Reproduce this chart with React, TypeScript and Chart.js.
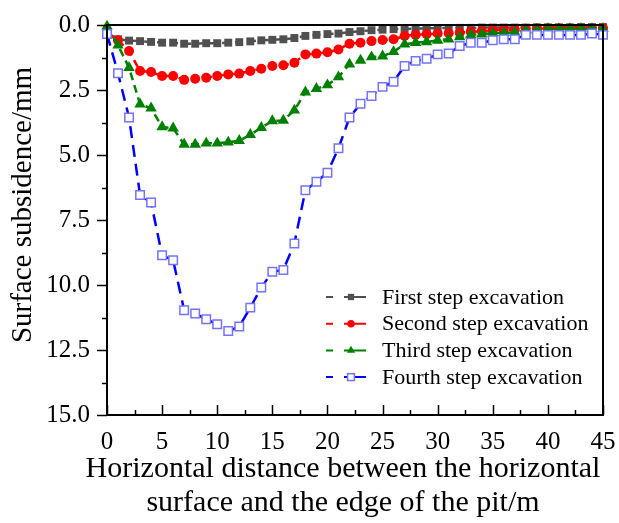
import { useEffect, useRef } from 'react';
import { Chart, registerables } from 'chart.js';

Chart.register(...registerables);

const DISTANCE = [0, 1, 2, 3, 4, 5, 6, 7, 8, 9, 10, 11, 12, 13, 14, 15, 16, 17, 18, 19, 20, 21, 22, 23, 24, 25, 26, 27, 28, 29, 30, 31, 32, 33, 34, 35, 36, 37, 38, 39, 40, 41, 42, 43, 44, 45];

const FIRST_STEP = [0.3, 0.55, 0.6, 0.62, 0.65, 0.68, 0.68, 0.72, 0.72, 0.7, 0.7, 0.68, 0.66, 0.63, 0.59, 0.57, 0.55, 0.5, 0.42, 0.38, 0.35, 0.33, 0.27, 0.24, 0.2, 0.18, 0.16, 0.15, 0.14, 0.13, 0.12, 0.12, 0.11, 0.11, 0.1, 0.1, 0.1, 0.1, 0.1, 0.09, 0.09, 0.09, 0.09, 0.08, 0.08, 0.08];

const SECOND_STEP = [0.3, 0.59, 1.0, 1.77, 1.81, 1.96, 1.96, 2.11, 2.07, 2.03, 1.96, 1.9, 1.87, 1.77, 1.68, 1.58, 1.55, 1.45, 1.13, 1.1, 1.05, 0.94, 0.72, 0.68, 0.62, 0.58, 0.55, 0.42, 0.38, 0.35, 0.33, 0.32, 0.3, 0.26, 0.24, 0.2, 0.18, 0.18, 0.14, 0.13, 0.13, 0.13, 0.13, 0.13, 0.13, 0.12];

const THIRD_STEP = [0.05, 0.78, 1.64, 3.05, 3.2, 3.92, 3.97, 4.59, 4.59, 4.55, 4.55, 4.51, 4.45, 4.22, 3.95, 3.69, 3.67, 3.28, 2.58, 2.45, 2.31, 2.0, 1.51, 1.36, 1.23, 1.2, 1.03, 0.74, 0.68, 0.65, 0.59, 0.55, 0.46, 0.38, 0.35, 0.32, 0.3, 0.28, 0.2, 0.17, 0.15, 0.15, 0.15, 0.15, 0.15, 0.14];

const FOURTH_STEP = [0.35, 1.86, 3.56, 6.54, 6.83, 8.86, 9.05, 10.97, 11.1, 11.32, 11.51, 11.77, 11.6, 10.87, 10.1, 9.49, 9.42, 8.4, 6.36, 6.03, 5.68, 4.74, 3.56, 3.03, 2.73, 2.38, 2.18, 1.58, 1.38, 1.3, 1.13, 1.1, 0.81, 0.68, 0.68, 0.59, 0.55, 0.55, 0.38, 0.38, 0.38, 0.38, 0.38, 0.38, 0.33, 0.38];

const SERIES_NAMES = ['First step excavation', 'Second step excavation', 'Third step excavation', 'Fourth step excavation'];
const X_TITLE_LINES = ['Horizontal distance between the horizontal', 'surface and the edge of the pit/m'];
const Y_TITLE = 'Surface subsidence/mm';

const FONT = '"Liberation Serif", "Times New Roman", Times, serif';

type Style = {
  color: string;
  marker: 'rect' | 'circle' | 'triangle' | 'openRect';
  markerStroke: string;
  markerFill: string;
  dash: number[];
};

const STYLES: Style[] = [
  { color: '#505050', marker: 'rect', markerStroke: '#505050', markerFill: '#505050', dash: [8, 5] },
  { color: '#ff0000', marker: 'circle', markerStroke: '#ff0000', markerFill: '#ff0000', dash: [8, 5] },
  { color: '#008000', marker: 'triangle', markerStroke: '#008000', markerFill: '#008000', dash: [8, 5] },
  { color: '#0000ff', marker: 'openRect', markerStroke: '#7373ff', markerFill: '#ffffff', dash: [12, 7] },
];

function drawMarker(ctx: CanvasRenderingContext2D, s: Style, x: number, y: number, k: number) {
  ctx.save();
  ctx.setLineDash([]);
  ctx.fillStyle = s.markerFill;
  ctx.strokeStyle = s.markerStroke;
  ctx.lineWidth = 1.5;
  if (s.marker === 'rect') {
    const h = 3.5 * k;
    ctx.fillRect(x - h, y - h, 2 * h, 2 * h);
  } else if (s.marker === 'circle') {
    ctx.beginPath();
    ctx.arc(x, y, 4.2 * k, 0, Math.PI * 2);
    ctx.fill();
  } else if (s.marker === 'triangle') {
    const r = 5.2 * k;
    ctx.beginPath();
    ctx.moveTo(x, y - r);
    ctx.lineTo(x + r * 0.866, y + r * 0.5);
    ctx.lineTo(x - r * 0.866, y + r * 0.5);
    ctx.closePath();
    ctx.fill();
  } else {
    const h = 3.8 * k;
    ctx.fillRect(x - h, y - h, 2 * h, 2 * h);
    ctx.strokeRect(x - h, y - h, 2 * h, 2 * h);
  }
  ctx.restore();
}

const decorPlugin = {
  id: 'decor',
  afterDraw(chart: any) {
    const { ctx, chartArea: a, scales } = chart;
    const xs = scales.x;
    const ys = scales.y;
    ctx.save();
    ctx.strokeStyle = '#000';
    ctx.lineWidth = 2;
    ctx.strokeRect(a.left, a.top, a.right - a.left, a.bottom - a.top);
    ctx.lineWidth = 1.5;
    for (let i = 0; i <= 12; i++) {
      const v = i * 1.25;
      const y = Math.round(ys.getPixelForValue(v)) + 0.5;
      const len = i % 2 === 0 ? 10 : 5;
      ctx.beginPath();
      ctx.moveTo(a.left - len, y);
      ctx.lineTo(a.left, y);
      ctx.stroke();
    }
    for (let i = 0; i <= 18; i++) {
      const v = i * 2.5;
      const x = Math.round(xs.getPixelForValue(v)) + 0.5;
      const len = i % 2 === 0 ? 10 : 5;
      ctx.beginPath();
      ctx.moveTo(x, a.bottom);
      ctx.lineTo(x, a.bottom - len);
      ctx.stroke();
    }
    ctx.fillStyle = '#000';
    ctx.textAlign = 'center';
    ctx.textBaseline = 'middle';
    ctx.font = `29px ${FONT}`;
    ctx.save();
    ctx.translate(23, 205);
    ctx.rotate(-Math.PI / 2);
    ctx.fillText(Y_TITLE, 0, 0);
    ctx.restore();
    ctx.font = `30px ${FONT}`;
    ctx.fillText(X_TITLE_LINES[0], 343, 469);
    ctx.fillText(X_TITLE_LINES[1], 343, 503);
    ctx.font = `22px ${FONT}`;
    ctx.textAlign = 'left';
    for (let i = 0; i < SERIES_NAMES.length; i++) {
      const s = STYLES[i];
      const y = 297 + i * 26.7;
      ctx.strokeStyle = s.color;
      ctx.lineWidth = 2;
      ctx.setLineDash([]);
      ctx.beginPath();
      ctx.moveTo(326, y);
      ctx.lineTo(333, y);
      ctx.moveTo(344, y);
      ctx.lineTo(366, y);
      ctx.stroke();
      drawMarker(ctx, s, 351, y, 0.9);
      ctx.fillStyle = '#000';
      ctx.fillText(SERIES_NAMES[i], 382, y + 1);
    }
    ctx.restore();
  },
};

export default function App() {
  const canvasRef = useRef<HTMLCanvasElement | null>(null);

  useEffect(() => {
    if (!canvasRef.current) return;
    const seriesValues = [FIRST_STEP, SECOND_STEP, THIRD_STEP, FOURTH_STEP];
    const pointStyles: any = { rect: 'rect', circle: 'circle', triangle: 'triangle', openRect: 'rect' };
    const radii: any = { rect: 5.6, circle: 5, triangle: 6.6, openRect: 6 };
    const datasets = seriesValues.map((vals, i) => {
      const s = STYLES[i];
      return {
        label: SERIES_NAMES[i],
        data: DISTANCE.map((d, j) => ({ x: d, y: vals[j] })),
        borderColor: s.color,
        borderWidth: 2.5,
        borderDash: s.dash,
        pointStyle: pointStyles[s.marker],
        pointRadius: radii[s.marker],
        pointBackgroundColor: s.markerFill,
        pointBorderColor: s.markerStroke,
        pointBorderWidth: s.marker === 'openRect' ? 1.5 : 0,
        fill: false,
        tension: 0,
        order: 3 - i,
        clip: false as any,
      };
    });
    const chart = new Chart(canvasRef.current, {
      type: 'line',
      data: { datasets },
      options: {
        animation: false,
        responsive: false,
        devicePixelRatio: 1,
        layout: { padding: { left: 0, top: 25, right: 16, bottom: 0 } },
        plugins: { legend: { display: false }, tooltip: { enabled: false }, title: { display: false } },
        scales: {
          x: {
            type: 'linear',
            min: 0,
            max: 45,
            grid: { display: false, drawTicks: false },
            border: { display: false },
            ticks: { stepSize: 5, color: '#000', font: { family: FONT, size: 25 }, padding: 12, maxRotation: 0, autoSkip: false },
            afterFit: (scale: any) => {
              scale.height = 108;
              scale.paddingLeft = 0;
              scale.paddingRight = 0;
            },
          },
          y: {
            type: 'linear',
            min: 0,
            max: 15,
            reverse: true,
            grid: { display: false, drawTicks: false },
            border: { display: false },
            ticks: {
              stepSize: 2.5,
              color: '#000',
              font: { family: FONT, size: 25 },
              padding: 17,
              callback: (v: any) => Number(v).toFixed(1),
            },
            afterFit: (scale: any) => {
              scale.width = 107;
              scale.paddingTop = 0;
              scale.paddingBottom = 0;
            },
          },
        },
      },
      plugins: [decorPlugin],
    });
    return () => chart.destroy();
  }, []);

  return (
    <div style={{ position: 'fixed', left: 0, top: 0, width: 619, height: 523, background: '#fff' }}>
      <canvas ref={canvasRef} width={619} height={523} style={{ width: 619, height: 523 }} />
    </div>
  );
}
